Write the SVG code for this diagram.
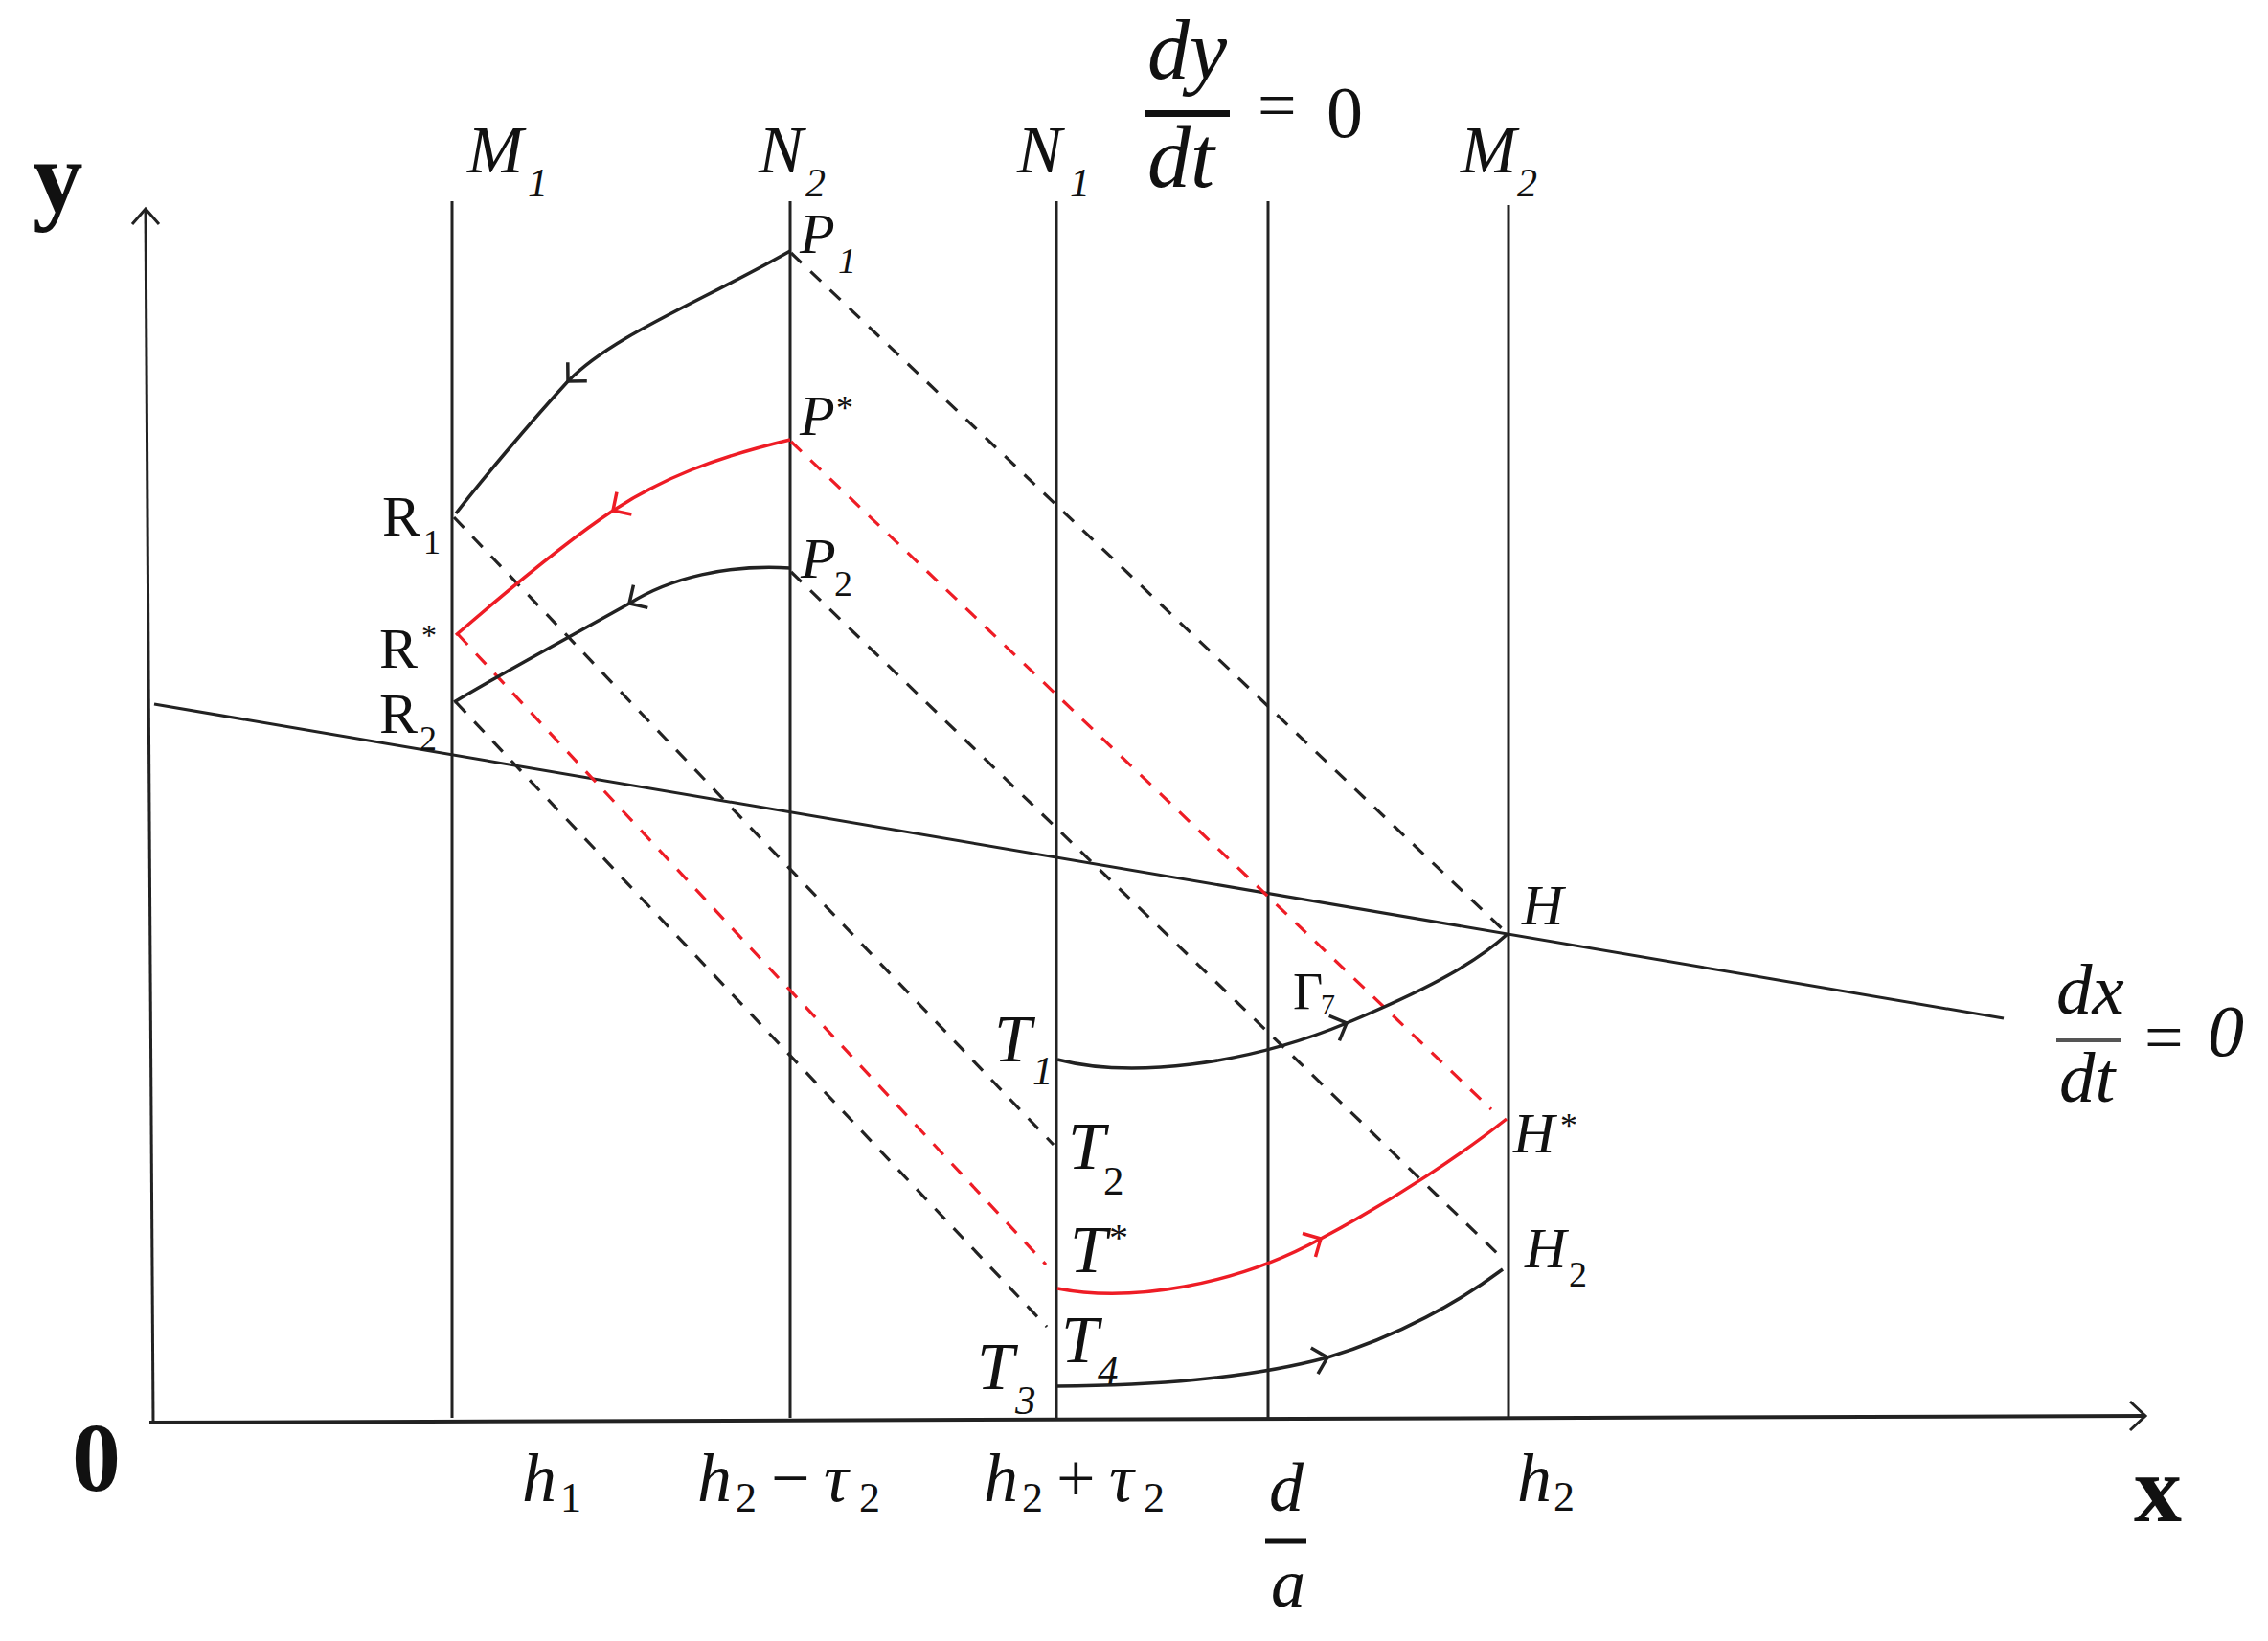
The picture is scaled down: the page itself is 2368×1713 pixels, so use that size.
<svg xmlns="http://www.w3.org/2000/svg" width="2368" height="1713" viewBox="0 0 2368 1713">
<style>
.ln{fill:none;stroke:#222;stroke-width:3}
.ax{fill:none;stroke:#222;stroke-width:4}
.cb{fill:none;stroke:#222;stroke-width:3.5}
.cr{fill:none;stroke:#ee1c25;stroke-width:3.5}
.db{fill:none;stroke:#222;stroke-width:3.2;stroke-dasharray:15 13}
.dr{fill:none;stroke:#ee1c25;stroke-width:3.2;stroke-dasharray:15 13}
text{font-family:"Liberation Serif","Times New Roman",serif;fill:#111}
.it{font-style:italic}
.bd{font-weight:bold}
</style>
<defs>
<marker id="ab" markerUnits="userSpaceOnUse" viewBox="-20 -16 24 32" markerWidth="24" markerHeight="32" refX="0" refY="0" orient="auto">
<path d="M-14,-14 L0,0 L-14,14" fill="none" stroke="#222" stroke-width="3.5"/>
</marker>
<marker id="ar" markerUnits="userSpaceOnUse" viewBox="-20 -16 24 32" markerWidth="24" markerHeight="32" refX="0" refY="0" orient="auto">
<path d="M-14,-14 L0,0 L-14,14" fill="none" stroke="#ee1c25" stroke-width="3.5"/>
</marker>
</defs>
<rect width="2368" height="1713" fill="#fff"/>

<g id="axes">
<path class="ln" d="M160,1485 L152,218"/>
<path class="ln" d="M138,234 L152,218 L166,234"/>
<path class="ax" d="M156,1485 L2240,1478"/>
<path class="ln" d="M2224,1463 L2240,1478 L2224,1493"/>
<text class="bd" x="34" y="220" font-size="105">y</text>
<text class="bd" x="75" y="1556" font-size="102">0</text>
<text class="bd" x="2228" y="1588" font-size="100">x</text>
</g>

<g id="verticals">
<path class="ln" d="M472,210 V1480"/>
<path class="ln" d="M825,210 V1480"/>
<path class="ln" d="M1103,210 V1480"/>
<path class="ln" d="M1324,210 V1480"/>
<path class="ln" d="M1575,214 V1480"/>
</g>

<g id="nullcline-dx">
<path class="ln" d="M161,735 L2092,1063"/>
<text class="it" x="2147" y="1058" font-size="75">dx</text>
<path d="M2147,1086 H2215" stroke="#555" stroke-width="4"/>
<text class="it" x="2150" y="1150" font-size="75">dt</text>
<text x="2239" y="1107" font-size="72">=</text>
<text class="it" x="2305" y="1102" font-size="76">0</text>
</g>

<g id="nullcline-dy">
<text class="it" x="1198" y="82" font-size="88">dy</text>
<path d="M1196,118.5 H1284" stroke="#111" stroke-width="7"/>
<text class="it" x="1198" y="195" font-size="90">dt</text>
<text x="1313" y="134" font-size="72">=</text>
<text x="1385" y="143" font-size="76">0</text>
</g>

<g id="line-labels">
<text class="it" x="488" y="180" font-size="70">M</text><text class="it" x="551" y="205" font-size="42">1</text>
<text class="it" x="792" y="180" font-size="70">N</text><text class="it" x="841" y="205" font-size="42">2</text>
<text class="it" x="1062" y="180" font-size="70">N</text><text class="it" x="1117" y="205" font-size="42">1</text>
<text class="it" x="1525" y="180" font-size="70">M</text><text class="it" x="1584" y="205" font-size="42">2</text>
</g>

<g id="ticks">
<text class="it" x="545" y="1567" font-size="72">h</text><text x="585" y="1578" font-size="44">1</text>
<text class="it" x="728" y="1567" font-size="72">h</text><text x="768" y="1578" font-size="44">2</text>
<text x="805" y="1567" font-size="72">−</text>
<text class="it" x="860" y="1567" font-size="72">τ</text><text x="897" y="1578" font-size="44">2</text>
<text class="it" x="1027" y="1567" font-size="72">h</text><text x="1067" y="1578" font-size="44">2</text>
<text x="1103" y="1567" font-size="72">+</text>
<text class="it" x="1158" y="1567" font-size="72">τ</text><text x="1194" y="1578" font-size="44">2</text>
<text class="it" x="1325" y="1577" font-size="72">d</text>
<path d="M1321,1609 H1364" stroke="#111" stroke-width="5"/>
<text class="it" x="1327" y="1677" font-size="72">a</text>
<text class="it" x="1584" y="1567" font-size="72">h</text><text x="1622" y="1577" font-size="44">2</text>
</g>

<g id="connectors">
<path class="db" d="M826,264 L1572,973"/>
<path class="dr" d="M826,461 L1557,1158"/>
<path class="db" d="M826,597 L1567,1312"/>
<path class="db" d="M474,540 L1100,1195"/>
<path class="dr" d="M478,662 L1092,1320"/>
<path class="db" d="M476,733 L1093,1385"/>

<path class="cb" marker-end="url(#ab)" d="M825,262 C730,316 640,350 593,398"/>
<path class="cb" d="M593,398 C550,445 500,505 476,536"/>
<path class="cr" marker-end="url(#ar)" d="M825,459 C745,478 690,500 640,533"/>
<path class="cr" d="M640,533 C590,566 520,625 476,663"/>
<path class="cb" marker-end="url(#ab)" d="M825,593 C760,589 700,603 657,630"/>
<path class="cb" d="M657,630 C600,662 520,705 474,733"/>

<path class="cb" marker-end="url(#ab)" d="M1104,1106 C1180,1126 1300,1112 1406,1068"/>
<path class="cb" d="M1406,1068 C1480,1037 1535,1010 1574,975"/>
<path class="cr" marker-end="url(#ar)" d="M1104,1345 C1180,1360 1290,1342 1379,1293"/>
<path class="cr" d="M1379,1293 C1460,1250 1530,1202 1573,1168"/>
<path class="cb" marker-end="url(#ab)" d="M1104,1447 C1200,1446 1300,1440 1386,1417"/>
<path class="cb" d="M1386,1417 C1460,1395 1525,1358 1569,1325"/>
</g>

<g id="P1"><text class="it" x="835" y="264" font-size="60">P</text><text class="it" x="875" y="285" font-size="38">1</text></g>
<g id="Pstar"><text class="it" x="835" y="454" font-size="60">P</text><text x="873" y="438" font-size="36">*</text></g>
<g id="P2"><text class="it" x="836" y="603" font-size="60">P</text><text x="871" y="622" font-size="38">2</text></g>
<g id="R1"><text x="399" y="559" font-size="60">R</text><text x="442" y="578" font-size="36">1</text></g>
<g id="Rstar"><text x="396" y="697" font-size="60">R</text><text x="440" y="674" font-size="32">*</text></g>
<g id="R2"><text x="396" y="765" font-size="60">R</text><text x="438" y="783" font-size="36">2</text></g>
<g id="H"><text class="it" x="1589" y="965" font-size="60">H</text></g>
<g id="Hstar"><text class="it" x="1580" y="1203" font-size="60">H</text><text x="1629" y="1187" font-size="36">*</text></g>
<g id="H2"><text class="it" x="1592" y="1323" font-size="60">H</text><text x="1638" y="1343" font-size="38">2</text></g>
<g id="Gamma7"><text x="1350" y="1053" font-size="54">Γ</text><text x="1379" y="1058" font-size="30">7</text></g>
<g id="T1"><text class="it" x="1038" y="1108" font-size="70">T</text><text class="it" x="1078" y="1132" font-size="43">1</text></g>
<g id="T2"><text class="it" x="1115" y="1220" font-size="70">T</text><text x="1152" y="1247" font-size="43">2</text></g>
<g id="Tstar"><text class="it" x="1117" y="1328" font-size="70">T</text><text x="1158" y="1305" font-size="40">*</text></g>
<g id="T4"><text class="it" x="1108" y="1422" font-size="70">T</text><text class="it" x="1146" y="1445" font-size="43">4</text></g>
<g id="T3"><text class="it" x="1020" y="1450" font-size="70">T</text><text class="it" x="1060" y="1476" font-size="43">3</text></g>
</svg>
